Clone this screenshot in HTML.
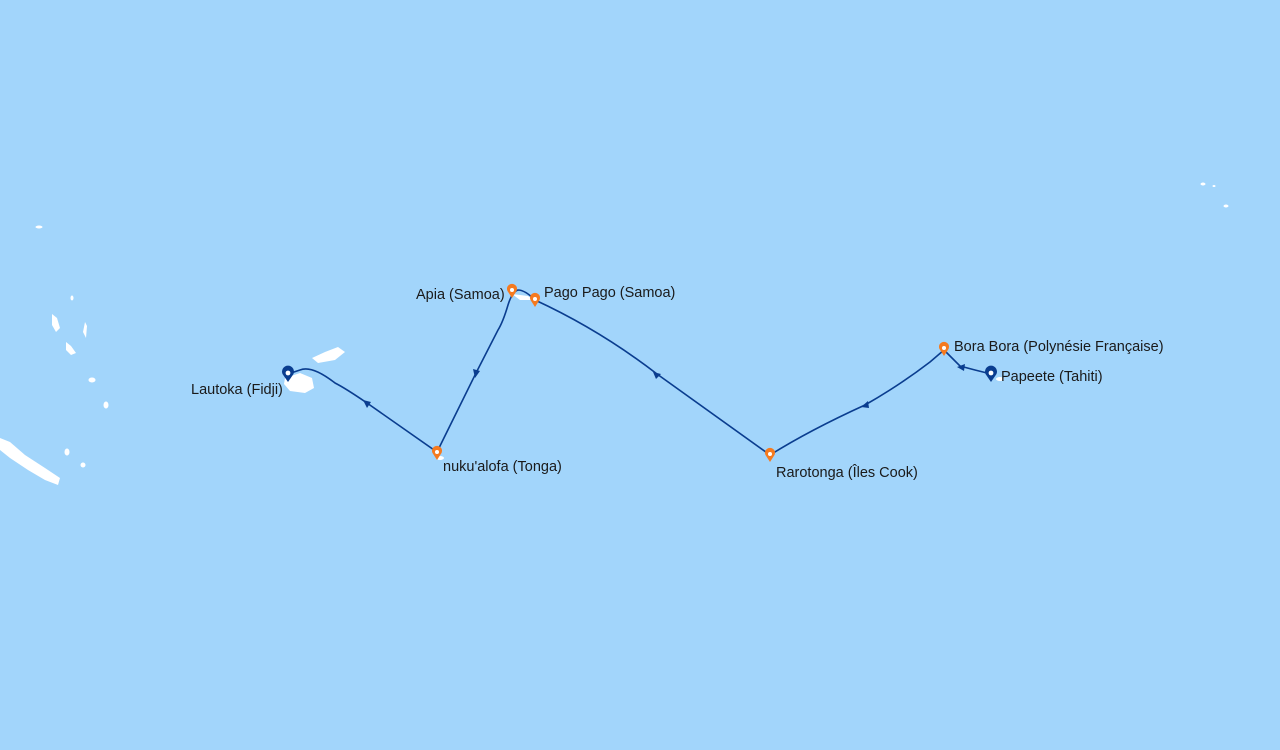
<!DOCTYPE html>
<html><head><meta charset="utf-8"><style>
html,body{margin:0;padding:0;width:1280px;height:750px;overflow:hidden;background:#a2d5fb}
svg{position:absolute;left:0;top:0}
text{font-family:"Liberation Sans",sans-serif;font-size:14.5px;fill:#1a1a1a}
</style></head><body>
<svg width="1280" height="750" viewBox="0 0 1280 750">
<rect width="1280" height="750" fill="#a2d5fb"/>
<g fill="#fff">
<path d="M0 438 L10 442 L25 455 L45 468 L60 478 L58 485 L45 480 L28 470 L10 458 L0 450Z"/>
<path d="M52 314 L57 318 L60 328 L56 332 L52 325Z"/>
<path d="M66 342 L71 346 L76 353 L71 355 L66 350Z"/>
<path d="M85 322 L87 326 L86 338 L83 332Z"/>
<ellipse cx="92" cy="380" rx="3.5" ry="2.5"/>
<ellipse cx="106" cy="405" rx="2.5" ry="3.5"/>
<ellipse cx="67" cy="452" rx="2.5" ry="3.5"/>
<ellipse cx="83" cy="465" rx="2.5" ry="2.5"/>
<ellipse cx="72" cy="298" rx="1.5" ry="2.5"/>
<ellipse cx="39" cy="227" rx="3.5" ry="1.5"/>
<path d="M285 378 L300 373 L312 378 L314 388 L305 393 L290 391 L284 384Z"/>
<path d="M312 358 L325 352 L338 347 L345 352 L335 360 L318 363Z"/>
<path d="M512 294 L528 296 L534 300 L520 300Z"/>
<ellipse cx="1203" cy="184" rx="2.5" ry="1.5"/>
<ellipse cx="1214" cy="186" rx="1.5" ry="1"/>
<ellipse cx="1226" cy="206" rx="2.5" ry="1.5"/>
<ellipse cx="440" cy="458" rx="4" ry="2"/>
<ellipse cx="1000" cy="379" rx="4" ry="2"/>
</g>
<path d="M991 374 L975 370 L960 366 L944 350 M944 350 L930 362 Q900 385 865 405 Q810 430 770 455 L657 374 Q600 330 535 300 Q525 290 518 290 Q512 292 508 305 Q503 322 498 330 L476 373 L437 452 L367 403 Q345 388 335 383 Q312 365 300 370 L288 374" fill="none" stroke="#0a3d8f" stroke-width="1.6"/>
<g fill="#0a3d8f">
<polygon points="957,367 965,364 964,371"/>
<polygon points="861,407 868,401 869,408"/>
<polygon points="653,372 661,374 656,379"/>
<polygon points="475,378 473,369 480,371"/>
<polygon points="363,400 371,402 367,408"/>
</g>
<g>
<g transform="translate(944,350)"><path d="M0 6 L-4.5 -1 A5 5 0 1 1 4.5 -1Z" fill="#f57a1f"/><circle cx="0" cy="-2" r="2" fill="#fff"/></g>
<g transform="translate(770,456)"><path d="M0 6 L-4.5 -1 A5 5 0 1 1 4.5 -1Z" fill="#f57a1f"/><circle cx="0" cy="-2" r="2" fill="#fff"/></g>
<g transform="translate(535,301)"><path d="M0 6 L-4.5 -1 A5 5 0 1 1 4.5 -1Z" fill="#f57a1f"/><circle cx="0" cy="-2" r="2" fill="#fff"/></g>
<g transform="translate(512,292)"><path d="M0 6 L-4.5 -1 A5 5 0 1 1 4.5 -1Z" fill="#f57a1f"/><circle cx="0" cy="-2" r="2" fill="#fff"/></g>
<g transform="translate(437,454)"><path d="M0 6 L-4.5 -1 A5 5 0 1 1 4.5 -1Z" fill="#f57a1f"/><circle cx="0" cy="-2" r="2" fill="#fff"/></g>
<g transform="translate(991,375)"><path d="M0 7 L-5.5 -1 A6 6 0 1 1 5.5 -1Z" fill="#0a3d8f"/><circle cx="0" cy="-2" r="2.4" fill="#fff"/></g>
<g transform="translate(288,375)"><path d="M0 7 L-5.5 -1 A6 6 0 1 1 5.5 -1Z" fill="#0a3d8f"/><circle cx="0" cy="-2" r="2.4" fill="#fff"/></g>
</g>
<text x="954" y="351">Bora Bora (Polynésie Française)</text>
<text x="1001" y="381">Papeete (Tahiti)</text>
<text x="776" y="477">Rarotonga (Îles Cook)</text>
<text x="544" y="297">Pago Pago (Samoa)</text>
<text x="416" y="299">Apia (Samoa)</text>
<text x="443" y="471">nuku'alofa (Tonga)</text>
<text x="191" y="394">Lautoka (Fidji)</text>
</svg>
</body></html>
